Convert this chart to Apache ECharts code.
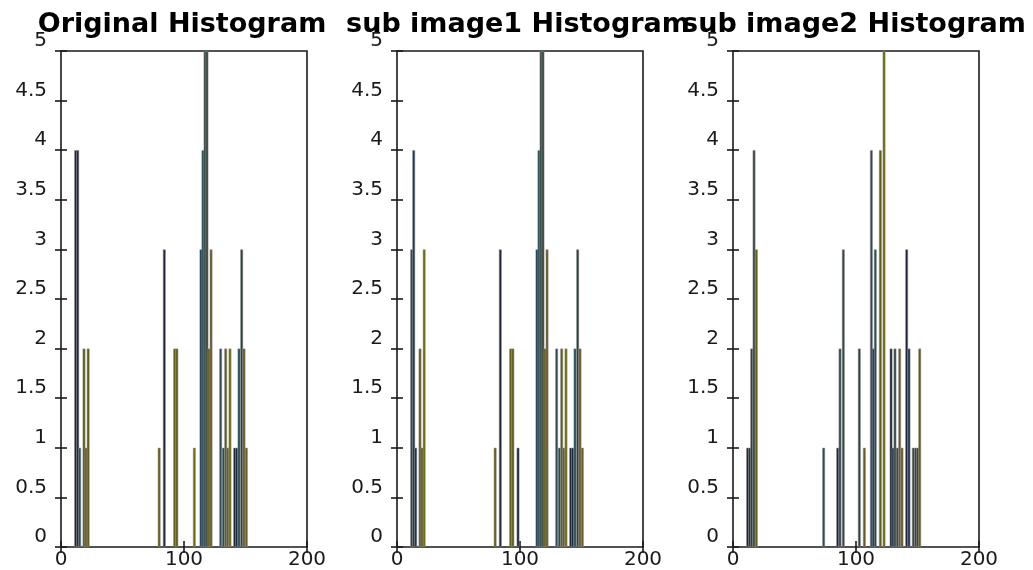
<!DOCTYPE html>
<html lang="en">
<head>
  <meta charset="UTF-8">
  <script src="https://cdn.jsdelivr.net/npm/echarts@6.0.0/dist/echarts.min.js"></script>
</head>
<body style="margin:0">
  <div id="histChart" style="width:1033px;height:570px;"></div>
  <script type="text/javascript">

    var titles = ['Original Histogram', 'sub image1 Histogram', 'sub image2 Histogram'];

    // bin centre (grey level) and count for each visible bar
    var origBins   = [11.9, 13.6, 15.2, 18.7, 20.3, 22.1, 79.8, 84.0, 92.4, 94.2, 108.4,
                      113.8, 115.4, 117.1, 118.7, 120.3, 122.0, 129.8, 132.0, 133.9, 135.5, 137.4,
                      141.2, 142.8, 144.7, 146.9, 148.8, 150.7];
    var origCounts = [4, 4, 1, 2, 1, 2, 1, 3, 2, 2, 1,
                      3, 4, 5, 5, 2, 3, 2, 1, 2, 1, 2,
                      1, 1, 2, 3, 2, 1];

    var sub1Bins   = [11.9, 13.6, 15.2, 18.7, 20.3, 22.1, 79.8, 84.0, 92.4, 94.2, 98.4,
                      113.8, 115.4, 117.1, 118.7, 120.3, 122.0, 129.8, 132.0, 133.9, 135.5, 137.4,
                      141.2, 142.8, 144.7, 146.9, 148.8, 150.7];
    var sub1Counts = [3, 4, 1, 2, 1, 3, 1, 3, 2, 2, 1,
                      3, 4, 5, 5, 2, 3, 2, 1, 2, 1, 2,
                      1, 1, 2, 3, 2, 1];

    var sub2Bins   = [11.9, 13.6, 15.2, 17.1, 19.0, 73.7, 85.1, 87.0, 89.7, 102.7, 106.8,
                      112.5, 114.1, 115.7, 119.8, 122.8, 128.5, 130.1, 131.7, 133.6, 135.5, 137.4,
                      141.2, 143.1, 146.6, 148.5, 150.1, 151.8];
    var sub2Counts = [1, 1, 2, 4, 3, 1, 1, 2, 3, 2, 1,
                      4, 2, 3, 4, 5, 2, 1, 2, 1, 2, 1,
                      3, 2, 1, 1, 1, 2];

    var xTicks = [0, 100, 200];
    var yTicks = [0, 0.5, 1, 1.5, 2, 2.5, 3, 3.5, 4, 4.5, 5];

    // colour of each bar (index into palette)
    var palette = ['#1f2338', '#1c3452', '#1f4f58', '#284236', '#364540',
                   '#5f5d16', '#6e6c0c', '#6b5826', '#34475a'];
    var origShade = [0, 0, 2, 5, 7, 5, 5, 0, 5, 5, 6, 1, 2, 4, 4, 5, 7, 8, 2, 5, 5, 6, 0, 0, 2, 3, 7, 7];
    var sub1Shade = [4, 1, 1, 7, 5, 6, 5, 0, 5, 5, 0, 1, 2, 4, 4, 5, 7, 8, 2, 5, 5, 6, 0, 0, 2, 3, 7, 7];
    var sub2Shade = [0, 1, 3, 4, 5, 2, 0, 8, 4, 3, 7, 8, 1, 2, 5, 6, 0, 1, 4, 4, 7, 7, 0, 1, 4, 4, 4, 5];

    var plots = [
      { bins: origBins, counts: origCounts, shade: origShade, left: 61, titleX: 177 },
      { bins: sub1Bins, counts: sub1Counts, shade: sub1Shade, left: 397, titleX: 513 },
      { bins: sub2Bins, counts: sub2Counts, shade: sub2Shade, left: 733, titleX: 849 }
    ];

    var chart = echarts.init(document.getElementById('histChart'));

    var ink = '#1a1a1a';
    var labelFont = { fontFamily: 'DejaVu Sans', fontSize: 20, color: ink };
    var tickStyle = { show: true, inside: true, length: 6, lineStyle: { color: ink, width: 1.6 } };

    var grid = [], xAxis = [], yAxis = [], series = [], title = [];

    plots.forEach(function (p, i) {
      grid.push({
        left: p.left, top: 51, width: 246, height: 500,
        show: true, borderColor: ink, borderWidth: 1.6, backgroundColor: '#fff'
      });
      title.push({
        text: titles[i], left: p.titleX, top: 6, textAlign: 'center',
        textStyle: { fontFamily: 'DejaVu Sans', fontWeight: 'bold', fontSize: 27, color: '#000' }
      });
      var xBase = {
        type: 'value', gridIndex: i, min: xTicks[0], max: xTicks[xTicks.length - 1],
        interval: xTicks[1] - xTicks[0],
        axisLine: { show: false }, splitLine: { show: false }, axisTick: tickStyle
      };
      xAxis.push(Object.assign({}, xBase, {
        position: 'bottom',
        axisLabel: Object.assign({ margin: 3 }, labelFont)
      }));
      xAxis.push(Object.assign({}, xBase, { position: 'top', axisLabel: { show: false } }));

      var yBase = {
        type: 'value', gridIndex: i, min: yTicks[0], max: yTicks[yTicks.length - 1],
        interval: yTicks[1] - yTicks[0],
        axisLine: { show: false }, splitLine: { show: false }, axisTick: tickStyle
      };
      yAxis.push(Object.assign({}, yBase, {
        position: 'left',
        axisLabel: Object.assign({ margin: 14, verticalAlign: 'bottom' }, labelFont)
      }));
      yAxis.push(Object.assign({}, yBase, { position: 'right', axisLabel: { show: false } }));

      series.push({
        type: 'bar',
        xAxisIndex: i * 2,
        yAxisIndex: i * 2,
        barWidth: 2.7,
        itemStyle: { borderColor: '#8c8c8c', borderWidth: 0.5 },
        data: p.bins.map(function (b, k) {
          return { value: [b, p.counts[k]], itemStyle: { color: palette[p.shade[k]] } };
        })
      });
    });

    chart.setOption({
      animation: false,
      backgroundColor: '#fff',
      title: title,
      grid: grid,
      xAxis: xAxis,
      yAxis: yAxis,
      series: series
    });
  </script>
</body>
</html>
